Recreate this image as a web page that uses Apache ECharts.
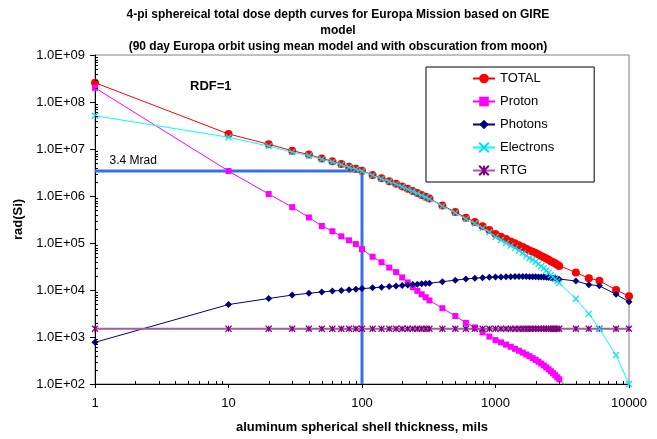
<!DOCTYPE html>
<html>
<head>
<meta charset="utf-8">
<title>Europa dose depth curves</title>
<script src="https://cdn.jsdelivr.net/npm/echarts@6/dist/echarts.min.js"></script>
<style>
  html, body { margin: 0; padding: 0; background: #fff; }
  #chart { width: 657px; height: 439px; }
</style>
</head>
<body>
<div id="chart"></div>
<script>
// aluminum shell thickness, mils
var thickness = [1, 10, 20, 30, 40, 50, 60, 70, 80, 90, 100,
  120, 140, 160, 180, 200, 220, 240, 260, 280, 300, 320,
  400, 500, 600, 700, 800, 900,
  1000, 1100, 1200, 1300, 1400, 1500, 1600, 1700, 1800, 1900, 2000,
  2100, 2200, 2300, 2400, 2500, 2600, 2700, 2800, 2900, 3000,
  4000, 5000, 6000, 8000, 10000]

// rad(Si)
var total = [2.57e8, 2.09e7, 1.26e7, 9.2e6, 7.6e6, 6.3e6, 5.5e6, 4.8e6, 4.2e6, 3.8e6, 3.45e6,
  2.8e6, 2.38e6, 2.07e6, 1.82e6, 1.6e6, 1.43e6, 1.28e6, 1.16e6, 1.05e6, 9.6e5, 8.8e5,
  6.3e5, 4.55e5, 3.45e5, 2.8e5, 2.28e5, 1.89e5,
  1.55e5, 1.36e5, 1.21e5, 1.08e5, 9.9e4, 9.0e4, 8.2e4, 7.5e4, 6.9e4, 6.5e4, 6.1e4,
  5.7e4, 5.3e4, 5.0e4, 4.7e4, 4.4e4, 4.1e4, 3.9e4, 3.7e4, 3.45e4, 3.25e4,
  2.35e4, 1.78e4, 1.58e4, 1.0e4, 7.4e3]
var proton = [2.0e8, 3.4e6, 1.1e6, 5.8e5, 3.5e5, 2.3e5, 1.78e5, 1.39e5, 1.14e5, 9.5e4, 7.4e4,
  5.1e4, 3.9e4, 3.0e4, 2.4e4, 1.85e4, 1.45e4, 1.15e4, 9.6e3, 8.1e3, 7.0e3, 6.0e3,
  4.1e3, 2.8e3, 2.0e3, 1.6e3, 1.26e3, 1.02e3,
  860, 770, 690, 620, 560, 510, 465, 425, 390, 355, 325,
  298, 272, 248, 226, 206, 187, 170, 154, 139, 126,
  50, null, null, null, null]
var photons = [770, 4.9e3, 6.6e3, 7.8e3, 8.5e3, 9.1e3, 9.5e3, 9.8e3, 1.01e4, 1.04e4, 1.07e4,
  1.11e4, 1.15e4, 1.19e4, 1.22e4, 1.25e4, 1.28e4, 1.31e4, 1.33e4, 1.35e4, 1.37e4, 1.39e4,
  1.5e4, 1.62e4, 1.72e4, 1.78e4, 1.83e4, 1.87e4,
  1.89e4, 1.9e4, 1.91e4, 1.92e4, 1.93e4, 1.93e4, 1.93e4, 1.93e4, 1.92e4, 1.92e4, 1.91e4,
  1.9e4, 1.89e4, 1.88e4, 1.86e4, 1.84e4, 1.82e4, 1.8e4, 1.78e4, 1.74e4, 1.7e4,
  1.55e4, 1.3e4, 1.23e4, 8.1e3, 5.6e3]
var electrons = [5.1e7, 1.78e7, 1.15e7, 8.6e6, 7.2e6, 6.05e6, 5.3e6, 4.65e6, 4.08e6, 3.7e6, 3.36e6,
  2.74e6, 2.33e6, 2.03e6, 1.79e6, 1.57e6, 1.4e6, 1.26e6, 1.14e6, 1.03e6, 9.4e5, 8.6e5,
  6.1e5, 4.35e5, 3.25e5, 2.6e5, 2.08e5, 1.69e5,
  1.34e5, 1.16e5, 1.0e5, 8.8e4, 7.8e4, 6.9e4, 6.1e4, 5.4e4, 4.8e4, 4.4e4, 4.0e4,
  3.6e4, 3.2e4, 2.9e4, 2.6e4, 2.35e4, 2.1e4, 1.9e4, 1.7e4, 1.55e4, 1.4e4,
  6.5e3, 3.1e3, 1.5e3, 410, 100]
var rtg = [1500, 1500, 1500, 1500, 1500, 1500, 1500, 1500, 1500, 1500, 1500,
  1500, 1500, 1500, 1500, 1500, 1500, 1500, 1500, 1500, 1500, 1500,
  1500, 1500, 1500, 1500, 1500, 1500,
  1500, 1500, 1500, 1500, 1500, 1500, 1500, 1500, 1500, 1500, 1500,
  1500, 1500, 1500, 1500, 1500, 1500, 1500, 1500, 1500, 1500,
  1500, 1500, 1500, 1500, 1500]

// 3.4 Mrad guide at 100 mils
var mradX = [1, 100, 100]
var mradY = [3.4e6, 3.4e6, 100]

var xLabels = [1, 10, 100, 1000, 10000]

function pairs (ys) {
  return thickness.map(function (t, i) { return [t, ys[i]] })
}

function minorTicks (fromExp, toExp) {
  var out = []
  for (var e = fromExp; e < toExp; e++) {
    for (var m = 2; m <= 9; m++) out.push(m * Math.pow(10, e))
  }
  return out
}

var crossPath = 'path://M0,0L10,10M10,0L0,10'
var starPath = 'path://M0,0L10,10M10,0L0,10M5,0L5,10'

var chart = echarts.init(document.getElementById('chart'))
chart.setOption({
  animation: false,
  textStyle: { fontFamily: 'Liberation Sans, Arial, sans-serif' },
  title: {
    text: '4-pi sphereical total dose depth curves for Europa Mission based on GIRE\nmodel\n(90 day Europa orbit using mean model and with obscuration from moon)',
    left: 333,
    top: 2,
    textAlign: 'center',
    textStyle: { fontSize: 12, fontWeight: 'bold', lineHeight: 16, color: '#000' }
  },
  graphic: [{
    type: 'text',
    left: 190,
    top: 80,
    style: { text: 'RDF=1', font: 'bold 13px Liberation Sans, Arial', fill: '#000' }
  }],
  legend: {
    orient: 'vertical',
    left: 426,
    top: 67,
    padding: [5, 40, 5, 46],
    itemWidth: 22,
    itemHeight: 12,
    itemGap: 10,
    backgroundColor: '#fff',
    borderColor: '#000',
    borderWidth: 1,
    textStyle: { fontSize: 13, color: '#000' },
    data: ['TOTAL', 'Proton', 'Photons', 'Electrons', 'RTG']
  },
  grid: {
    left: 95,
    right: 28,
    top: 55,
    bottom: 55,
    show: true,
    borderColor: '#808080',
    borderWidth: 1
  },
  xAxis: {
    type: 'log',
    logBase: 10,
    min: 1,
    max: 10000,
    splitNumber: 4,
    name: 'aluminum spherical shell thickness, mils',
    nameLocation: 'middle',
    nameGap: 37,
    nameTextStyle: { fontSize: 13, fontWeight: 'bold', color: '#000' },
    axisLine: { show: true, lineStyle: { color: '#000' } },
    axisTick: { show: true, length: 4, lineStyle: { color: '#000' } },
    axisLabel: {
      fontSize: 13,
      color: '#000',
      margin: 13,
      formatter: function (v) { return xLabels.indexOf(Math.round(v)) >= 0 ? String(Math.round(v)) : '' }
    },
    splitLine: { show: false }
  },
  yAxis: {
    type: 'log',
    logBase: 10,
    min: 100,
    max: 1e9,
    splitNumber: 7,
    name: 'rad(Si)',
    nameLocation: 'middle',
    nameGap: 66,
    nameTextStyle: { fontSize: 13, fontWeight: 'bold', color: '#000' },
    axisLine: { show: true, lineStyle: { color: '#000' } },
    axisTick: { show: true, length: 5, lineStyle: { color: '#000' } },
    axisLabel: {
      fontSize: 13,
      color: '#000',
      margin: 10,
      formatter: function (v) {
        var e = Math.round(Math.log10(v))
        return '1.0E+' + (e < 10 ? '0' : '') + e
      }
    },
    splitLine: { show: false }
  },
  series: [
    {
      name: '3.4 Mrad',
      type: 'line',
      data: mradX.map(function (x, i) {
        if (i === 0) {
          return {
            value: [x, mradY[i]],
            label: {
              show: true,
              formatter: '3.4 Mrad',
              position: 'right',
              distance: 5,
              offset: [9, -10],
              fontSize: 12,
              color: '#000'
            }
          }
        }
        return [x, mradY[i]]
      }),
      symbol: 'circle',
      symbolSize: 1,
      lineStyle: { color: '#3a6ee8', width: 3 },
      itemStyle: { color: '#3a6ee8' },
      silent: true,
      z: 1
    },
    {
      name: 'TOTAL',
      type: 'line',
      data: pairs(total),
      symbol: 'circle',
      symbolSize: 8,
      lineStyle: { color: '#ff0000', width: 1 },
      itemStyle: { color: '#ff0000' },
      z: 2
    },
    {
      name: 'Proton',
      type: 'line',
      data: pairs(proton),
      symbol: 'rect',
      symbolSize: 6,
      lineStyle: { color: '#ff00ff', width: 1 },
      itemStyle: { color: '#ff00ff' },
      z: 3
    },
    {
      name: 'Photons',
      type: 'line',
      data: pairs(photons),
      symbol: 'diamond',
      symbolSize: 7,
      lineStyle: { color: '#000080', width: 1 },
      itemStyle: { color: '#000080' },
      z: 3
    },
    {
      name: 'Electrons',
      type: 'line',
      data: pairs(electrons),
      symbol: crossPath,
      symbolSize: 6,
      lineStyle: { color: '#00ffff', width: 1 },
      itemStyle: { color: '#00ffff', borderColor: '#00e0f0', borderWidth: 1.2 },
      z: 4
    },
    {
      name: 'RTG',
      type: 'line',
      data: pairs(rtg),
      symbol: starPath,
      symbolSize: 6,
      lineStyle: { color: '#a45aa8', width: 2 },
      itemStyle: { color: '#800080', borderColor: '#800080', borderWidth: 1.2 },
      z: 3
    },
    {
      // minor ticks on the x axis (2..9 per decade)
      type: 'custom',
      silent: true,
      data: minorTicks(0, 4).map(function (v) { return [v, 100] }),
      renderItem: function (params, api) {
        var p = api.coord([api.value(0), api.value(1)])
        var x = Math.round(p[0]) + 0.5
        return { type: 'line', shape: { x1: x, y1: p[1], x2: x, y2: p[1] - 3 }, style: { stroke: '#000', lineWidth: 1 } }
      },
      z: 5
    },
    {
      // minor ticks on the y axis
      type: 'custom',
      silent: true,
      data: minorTicks(2, 9).map(function (v) { return [1, v] }),
      renderItem: function (params, api) {
        var p = api.coord([api.value(0), api.value(1)])
        var y = Math.round(p[1]) + 0.5
        return { type: 'line', shape: { x1: p[0], y1: y, x2: p[0] + 3, y2: y }, style: { stroke: '#000', lineWidth: 1 } }
      },
      z: 5
    }
  ]
})
</script>
</body>
</html>
